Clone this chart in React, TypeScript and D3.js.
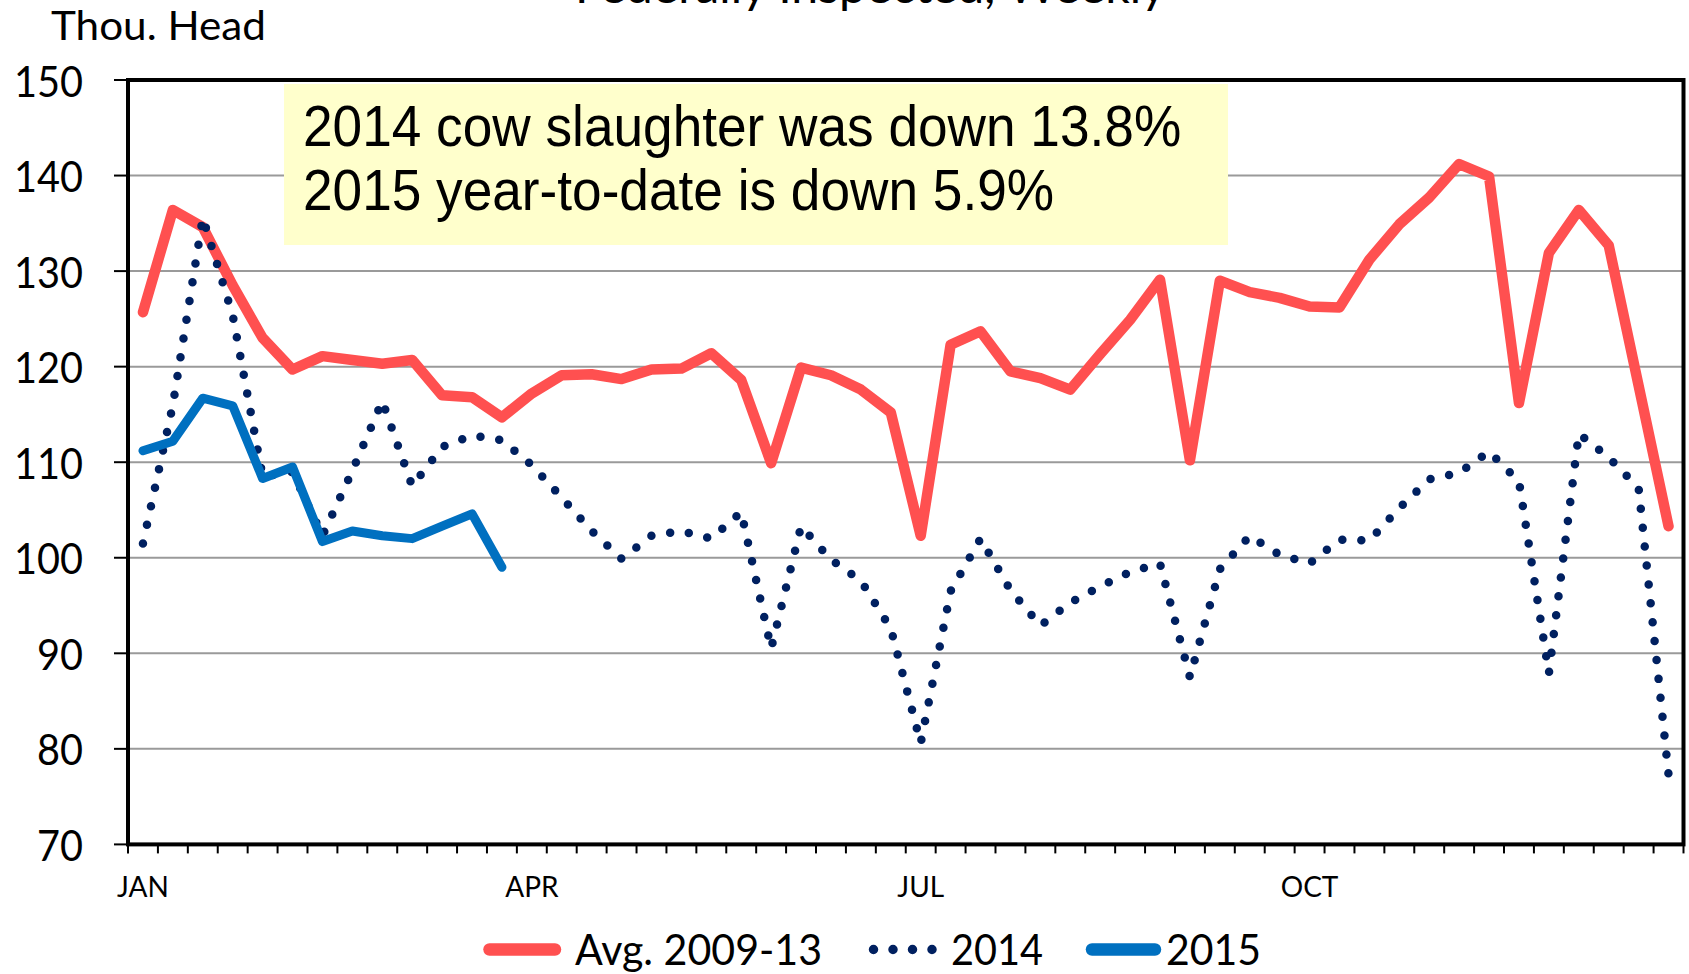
import React from 'react';
import * as d3 from 'd3';

// ---- Data ----
const weekNumbers: number[] = Array.from({ length: 52 }, (_, i) => i + 1);

const avg0913: number[] = [
  125.7, 136.4, 134.6, 128.5, 123.0, 119.7, 121.1, 120.7, 120.3, 120.7,
  117.0, 116.8, 114.7, 117.2, 119.1, 119.2, 118.7, 119.7, 119.8, 121.4,
  118.6, 109.9, 119.9, 119.1, 117.6, 115.2, 102.3, 122.3, 123.7, 119.5,
  118.8, 117.6, 121.3, 124.9, 129.1, 110.2, 129.0, 127.8, 127.2, 126.3,
  126.2, 131.2, 134.9, 137.7, 141.2, 139.9, 116.2, 131.9, 136.4, 132.7,
  118.0, 103.3,
];

const y2014: number[] = [
  101.5, 116.0, 135.6, 125.4, 108.5, 109.0, 102.3, 109.1, 116.4, 107.5,
  111.6, 112.8, 112.3, 109.7, 106.3, 102.8, 99.9, 102.3, 102.8, 102.0,
  104.8, 90.5, 103.3, 99.8, 97.6, 92.6, 80.6, 96.5, 102.0, 96.6,
  92.9, 95.3, 97.0, 98.5, 99.4, 87.5, 98.8, 102.3, 100.3, 99.4,
  101.9, 101.8, 105.2, 108.2, 108.9, 111.1, 108.0, 87.9, 113.0, 110.5,
  107.3, 77.3,
];

const y2015: number[] = [
  111.2, 112.2, 116.7, 115.9, 108.3, 109.5, 101.7, 102.8, 102.3, 102.0,
  103.3, 104.6, 99.0,
];

const yTicks: number[] = [70, 80, 90, 100, 110, 120, 130, 140, 150];
const monthLabels: string[] = ['JAN', 'APR', 'JUL', 'OCT'];
const monthWeeks: number[] = [1, 14, 27, 40];

const seriesNames: string[] = ['Avg. 2009-13', '2014', '2015'];
const boxLines: string[] = [
  '2014 cow slaughter was down 13.8%',
  '2015 year-to-date is down 5.9%',
];

// ---- Layout ----
const W = 1689;
const H = 974;
const left = 128;
const right = 1683.5;
const top = 80;
const bottom = 844.4;

const RED = '#FF5050';
const NAVY = '#002060';
const BLUE = '#0070C0';
const CAL = 'Lato, "Open Sans", sans-serif';
const ARIAL = '"Liberation Sans", Arial, sans-serif';

export default function App() {
  const x = d3.scaleBand<number>().domain(weekNumbers).range([left, right]).padding(0);
  const bw = x.bandwidth();
  const cx = (i: number) => (x(weekNumbers[i]) as number) + bw / 2;
  const y = d3.scaleLinear().domain([70, 150]).range([bottom, top]);

  const line = d3
    .line<number>()
    .x((_, i) => cx(i))
    .y((d) => y(d));

  const boundaries = weekNumbers.map((w) => x(w) as number).concat([right]);

  return (
    <svg
      width={W}
      height={H}
      viewBox={`0 0 ${W} ${H}`}
      style={{ position: 'absolute', left: 0, top: 0, display: 'block', overflow: 'hidden' }}
    >
      <rect x={0} y={0} width={W} height={H} fill="#ffffff" />

      {/* title (cut off at top, as in the reference) */}
      <text x={575} y={3} fontFamily={CAL} fontSize={47} textLength={591} lengthAdjust="spacingAndGlyphs" fill="#000">
        Federally Inspected, Weekly
      </text>

      {/* unit label */}
      <text x={51} y={39.5} fontFamily={CAL} fontSize={41} textLength={215} lengthAdjust="spacingAndGlyphs" fill="#000">
        Thou. Head
      </text>

      {/* gridlines */}
      {yTicks
        .filter((t) => t !== 70 && t !== 150)
        .map((t) => (
          <line key={'g' + t} x1={left} x2={right} y1={y(t)} y2={y(t)} stroke="#9a9a9a" strokeWidth={2} />
        ))}

      {/* annotation box */}
      <rect x={284} y={84} width={944} height={161} fill="#FFFFCC" />
      {boxLines.map((s, k) => (
        <g key={'b' + k} transform={`translate(303, ${146 + k * 64}) scale(1, 1.08)`}>
          <text x={0} y={0} fontFamily={ARIAL} fontSize={53.2} fill="#000">
            {s}
          </text>
        </g>
      ))}

      {/* series */}
      <path d={line(avg0913) || ''} fill="none" stroke={RED} strokeWidth={10.5} strokeLinejoin="round" strokeLinecap="round" />
      <path
        d={line(y2014) || ''}
        fill="none"
        stroke={NAVY}
        strokeWidth={8.5}
        strokeDasharray="0 19"
        strokeLinecap="round"
        strokeLinejoin="round"
      />
      <path d={line(y2015) || ''} fill="none" stroke={BLUE} strokeWidth={9} strokeLinejoin="round" strokeLinecap="round" />

      {/* frame */}
      <rect x={left} y={top} width={right - left} height={bottom - top} fill="none" stroke="#000" strokeWidth={4} />

      {/* y ticks and labels */}
      {yTicks.map((t) => (
        <g key={'y' + t}>
          <line x1={114} x2={left} y1={y(t)} y2={y(t)} stroke="#000" strokeWidth={2} />
          <text
            x={83}
            y={y(t) + 16.5}
            textAnchor="end"
            fontFamily={CAL}
            fontSize={42}
            textLength={String(t).length * 23}
            lengthAdjust="spacingAndGlyphs"
            fill="#000"
          >
            {t}
          </text>
        </g>
      ))}

      {/* x ticks */}
      {boundaries.map((b, k) => (
        <line key={'x' + k} x1={b} x2={b} y1={bottom} y2={bottom + 9} stroke="#000" strokeWidth={2} />
      ))}
      {monthLabels.map((m, k) => (
        <text
          key={'m' + m}
          x={cx(weekNumbers.indexOf(monthWeeks[k]))}
          y={897}
          textAnchor="middle"
          fontFamily={CAL}
          fontSize={28}
          fill="#000"
        >
          {m}
        </text>
      ))}

      {/* legend */}
      <line x1={489.5} x2={555} y1={949.5} y2={949.5} stroke={RED} strokeWidth={12.5} strokeLinecap="round" />
      <text x={575} y={965} fontFamily={CAL} fontSize={42} textLength={247} lengthAdjust="spacingAndGlyphs" fill="#000">
        {seriesNames[0]}
      </text>
      <line x1={873.5} x2={933} y1={949.5} y2={949.5} stroke={NAVY} strokeWidth={9.5} strokeDasharray="0 19.5" strokeLinecap="round" />
      <text x={951} y={965} fontFamily={CAL} fontSize={42} textLength={92} lengthAdjust="spacingAndGlyphs" fill="#000">
        {seriesNames[1]}
      </text>
      <line x1={1092} x2={1155} y1={949.5} y2={949.5} stroke={BLUE} strokeWidth={12.5} strokeLinecap="round" />
      <text x={1166} y={965} fontFamily={CAL} fontSize={42} textLength={95} lengthAdjust="spacingAndGlyphs" fill="#000">
        {seriesNames[2]}
      </text>
    </svg>
  );
}
